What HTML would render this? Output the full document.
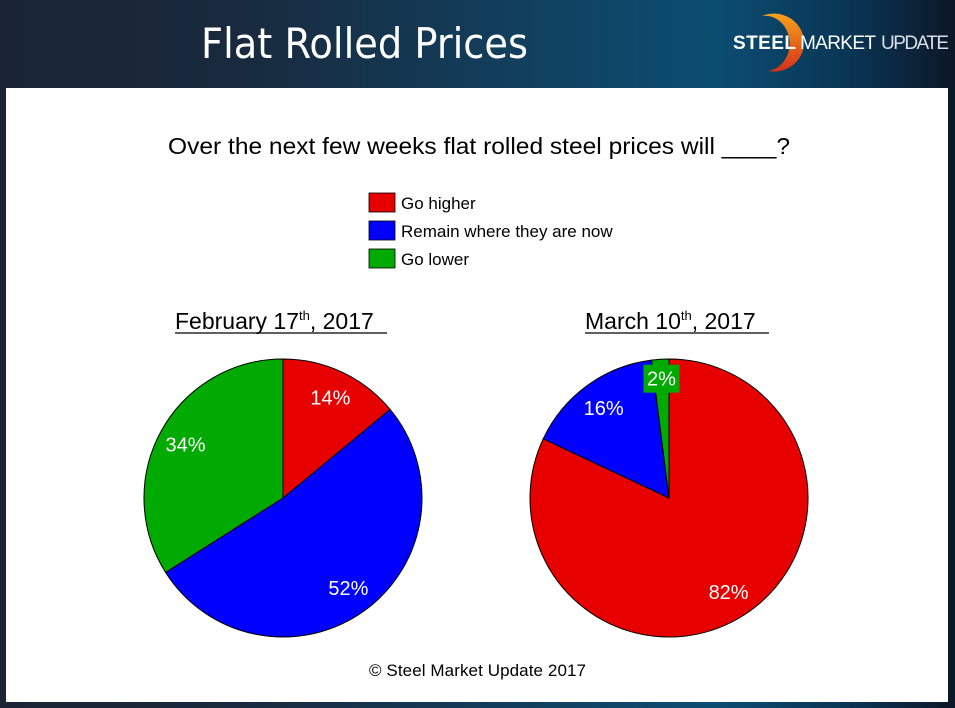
<!DOCTYPE html>
<html><head><meta charset="utf-8"><style>
html,body{margin:0;padding:0;}
body{width:955px;height:708px;position:relative;overflow:hidden;font-family:"Liberation Sans",sans-serif;
background:linear-gradient(90deg,#1a2434 0%,#192a3e 25%,#11405e 55%,#0b4d72 75%,#0a3352 90%,#0d1726 100%);}
#panel{position:absolute;left:6px;top:88px;width:942px;height:614px;background:#fff;}
svg{position:absolute;left:0;top:0;}
</style></head><body>
<div id="panel"></div>
<svg width="955" height="708" id="chart" font-family="Liberation Sans, DejaVu Sans, sans-serif">
<defs><linearGradient id="arc" x1="0" y1="0" x2="0" y2="1"><stop offset="0" stop-color="#f7a21b"/><stop offset="1" stop-color="#d4301a"/></linearGradient></defs>
<text x="201" y="58" fill="#fff" font-size="42" font-family="DejaVu Sans, Liberation Sans, sans-serif" textLength="327" lengthAdjust="spacingAndGlyphs">Flat Rolled Prices</text>
<g>
<path d="M762 16 A30 29 0 1 1 768 71 A24 27 0 1 0 762 16Z" fill="url(#arc)"/>
<text x="733" y="49" fill="#fff" font-size="19" font-weight="bold" textLength="63">STEEL</text>
<text x="800" y="49" fill="#fff" font-size="19" textLength="76">MARKET</text>
<text x="881" y="49" fill="#d8e0e8" font-size="19" textLength="68">UPDATE</text>
</g>
<text x="168" y="154" font-size="23" fill="#000" textLength="622" lengthAdjust="spacingAndGlyphs">Over the next few weeks flat rolled steel prices will ____?</text>
<g id="legend"></g>
<text x="175" y="329" font-size="23">February 17<tspan font-size="13" dy="-9">th</tspan><tspan dy="9">, 2017</tspan></text>
<line x1="175" y1="333" x2="387" y2="333" stroke="#000" stroke-width="1.3"/>
<text x="585" y="329" font-size="23">March 10<tspan font-size="13" dy="-9">th</tspan><tspan dy="9">, 2017</tspan></text>
<line x1="585" y1="333" x2="769" y2="333" stroke="#000" stroke-width="1.3"/>
<g id="pies"></g>
<text x="369" y="676" font-size="17" textLength="217">© Steel Market Update 2017</text>
</svg>
<script>
const categories=["Go higher","Remain where they are now","Go lower"];
const colors=["#e60000","#0000ff","#00aa00"];
const feb=[14,52,34];
const mar=[82,16,2];
const NS="http://www.w3.org/2000/svg";
const lg=document.getElementById('legend');
categories.forEach((c,i)=>{
  const r=document.createElementNS(NS,'rect');
  r.setAttribute('x',369);r.setAttribute('y',193+i*28);r.setAttribute('width',26);r.setAttribute('height',19);
  r.setAttribute('fill',colors[i]);r.setAttribute('stroke','#000');r.setAttribute('stroke-width','0.8');
  
  
  lg.appendChild(r);
  const t=document.createElementNS(NS,'text');
  t.setAttribute('x',401);t.setAttribute('y',209+i*28);t.setAttribute('font-size','17');t.textContent=c;
  
  
  lg.appendChild(t);
});
function pie(vals,cx,cy,R,name){
  const g=document.createElementNS(NS,'g');
  
  
  document.getElementById('pies').appendChild(g);
  const tot=vals.reduce((a,b)=>a+b,0);let acc=0;
  const pt=(f,r)=>[cx+r*Math.sin(f*2*Math.PI),cy-r*Math.cos(f*2*Math.PI)];
  const labels=[];
  vals.forEach((v,i)=>{
    const a0=acc/tot,a1=(acc+v)/tot;acc+=v;
    const p0=pt(a0,R),p1=pt(a1,R);
    const p=document.createElementNS(NS,'path');
    p.setAttribute('d',`M${cx} ${cy}L${p0[0]} ${p0[1]}A${R} ${R} 0 ${a1-a0>0.5?1:0} 1 ${p1[0]} ${p1[1]}Z`);
    p.setAttribute('fill',colors[i]);p.setAttribute('stroke','#000');p.setAttribute('stroke-width','1');
    
    
    g.appendChild(p);
    const small=v/tot<0.05;
    const lp=pt((a0+a1)/2,small?R*0.86:R*0.8);
    labels.push([lp,v,small,i]);
  });
  labels.forEach(([lp,v,small,i])=>{
    if(small){
      const b=document.createElementNS(NS,'rect');
      b.setAttribute('x',lp[0]-18);b.setAttribute('y',lp[1]-14);b.setAttribute('width',36);b.setAttribute('height',28);
      b.setAttribute('fill',colors[i]);
      
      
      g.appendChild(b);
    }
    const t=document.createElementNS(NS,'text');
    t.setAttribute('x',lp[0]);t.setAttribute('y',lp[1]+7);t.setAttribute('text-anchor','middle');
    t.setAttribute('font-size','20');t.setAttribute('fill','#fff');t.textContent=v+'%';
    
    
    g.appendChild(t);
  });
}
pie(feb,283,498,139,'pie-feb-17');
pie(mar,669,498,139,'pie-mar-10');
</script>
</body></html>
